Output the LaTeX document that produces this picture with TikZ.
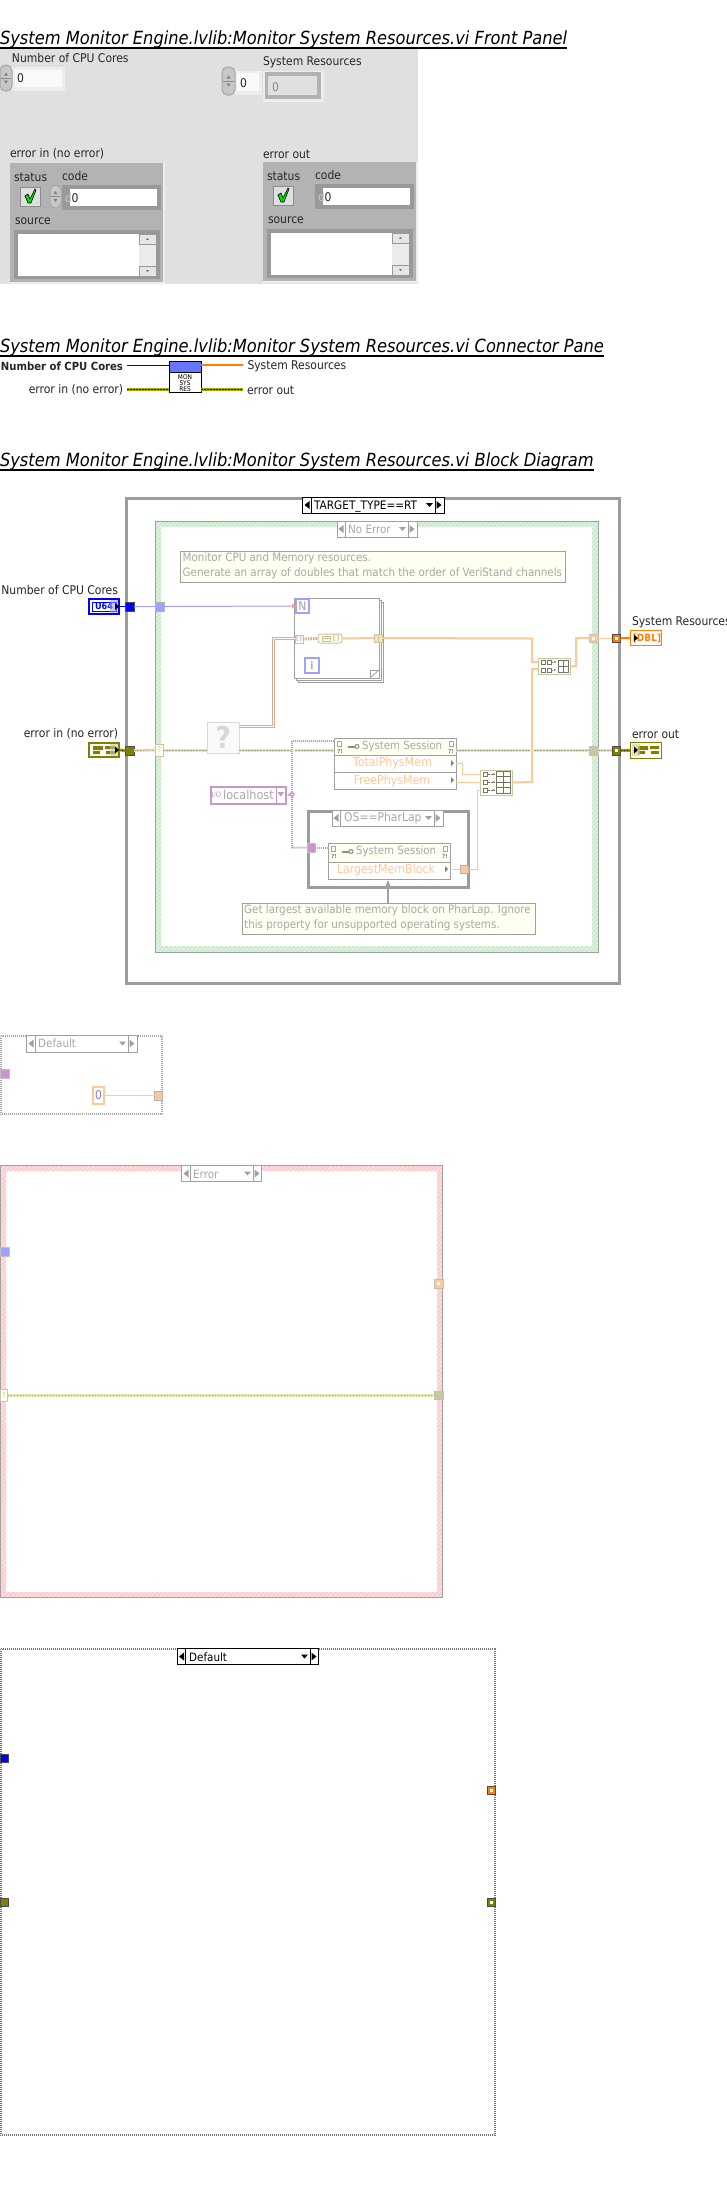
\documentclass[tikz,border=0pt]{standalone}
\usepackage{fontspec}
\setmainfont{DejaVu Sans Condensed}
\usetikzlibrary{patterns.meta,arrows.meta}
\definecolor{panelbg}{HTML}{E0E0E0}
\definecolor{clus}{HTML}{B3B3B3}
\definecolor{ring}{HTML}{9C9C9C}
\definecolor{gb}{HTML}{A0A0A0}
\definecolor{gt}{HTML}{A8A8A8}
\definecolor{note}{HTML}{FFFFF2}
\definecolor{pblue}{HTML}{A0A0FF}
\definecolor{porange}{HTML}{FFC896}
\definecolor{dorange}{HTML}{FF8000}
\definecolor{ppurple}{HTML}{C896C8}
\definecolor{olive2}{HTML}{808000}
\definecolor{polive}{HTML}{C8C8A0}
\definecolor{pyell}{HTML}{E8E8B4}
\definecolor{pdash}{HTML}{A0A080}
\definecolor{pgreen}{HTML}{C8E8C8}
\definecolor{pgreens}{HTML}{E4F4E4}
\definecolor{ppink}{HTML}{FFC8C8}
\definecolor{ppinks}{HTML}{FFE4E4}
\definecolor{brownw}{HTML}{D8A898}
\newcommand\lvfs[1]{\fontsize{#1}{#1}\selectfont}
\tikzset{
  lvbox/.style={rectangle,inner sep=0pt,outer sep=0pt,line width=1pt,draw=gb,font=\lvfs{12}},
  lbl/.style={inner sep=0pt,outer sep=0pt,font=\lvfs{12},text=black!85},
  ptitle/.style={inner sep=0pt,outer sep=0pt,anchor=base west,font=\itshape\lvfs{18.1}},
  seltxt/.style={inner sep=0pt,anchor=west,text=gt,font=\lvfs{11.5}},
  rulel/.style={line width=2pt,draw=black},
  wblue/.style={line width=1pt,draw=blue},
  wpblue/.style={line width=1pt,draw=pblue},
  worange/.style={line width=2pt,draw=dorange},
  wporange/.style={line width=1pt,draw=porange},
  wporangeb/.style={line width=2pt,draw=porange},
  wpurple/.style={line width=2pt,draw=ppurple,dash pattern=on 1pt off 1pt},
  warr/.style={line width=1pt,draw=brownw,double=white,double distance=1pt},
  warrd/.style={line width=3pt,draw=brownw,dash pattern=on 1.5pt off 1pt},
  werr/.style={line width=3pt,draw=olive2!70!yellow,postaction={draw=black!70!olive2,line width=1pt,dash pattern=on 1.5pt off 1.5pt}},
  werrp/.style={line width=3pt,draw=pyell,postaction={draw=pdash,line width=1pt,dash pattern=on 1.5pt off 1.5pt}},
  hatchgreen/.style={pattern={Lines[angle=45,distance=3pt,line width=1.5pt]},pattern color=pgreen,even odd rule},
  hatchpink/.style={pattern={Lines[angle=45,distance=3pt,line width=1.5pt]},pattern color=ppink,even odd rule},
  checka/.style={line width=1pt,dash pattern=on 1pt off 1pt},
  checkb/.style={line width=1pt,dash pattern=on 1pt off 1pt,dash phase=1pt},
  pname/.style={inner sep=0pt,outer sep=0pt,text=porange,font=\lvfs{12.3}},
}
% [options]{name}{x1}{y1}{x2}{y2}{text}
\newcommand\lvbx[7][]{%
  \pgfmathsetmacro\bxw{(#5)-(#3)}\pgfmathsetmacro\bxh{(#6)-(#4)}%
  \node[lvbox,minimum width=\bxw pt,minimum height=\bxh pt,#1] (#2) at ({((#3)+(#5))/2},{((#4)+(#6))/2}) {#7};}
% [colour]{name}{x1}{y1}{x2}{y2}{cellL}{cellR}{text}
\newcommand\lvsel[8][gb]{%
  \begingroup\def\cc{#1}%
  \lvbx[draw=\cc,fill=white]{#2}{#3}{#4}{#5}{#6}{}%
  \draw[draw=\cc,line width=1pt] (#7,#4)--(#7,#6) (#8,#4)--(#8,#6);%
  \fill[\cc] (#7-6.5,{(#4+#6)/2})--(#7-1.5,{(#4+#6)/2-4})--(#7-1.5,{(#4+#6)/2+4})--cycle;%
  \fill[\cc] (#8+6.5,{(#4+#6)/2})--(#8+1.5,{(#4+#6)/2-4})--(#8+1.5,{(#4+#6)/2+4})--cycle;%
  \fill[\cc] (#8-9,{(#4+#6)/2-2})--(#8-2,{(#4+#6)/2-2})--(#8-5.5,{(#4+#6)/2+2})--cycle;%
  \endgroup}
\newcommand\lvspin[5]{%
  \lvbx[fill=black!22,draw=black!35,rounded corners=5.5pt]{#1}{#2}{#3}{#4}{#5}{}%
  \draw[black!45,line width=.6pt] ([xshift=1pt]#1.west)--([xshift=-1pt]#1.east);%
  \fill[black!50] ([yshift=5.5pt]#1.center)--++(-2,3)--++(4,0)--cycle;%
  \fill[black!50] ([yshift=-5.5pt]#1.center)--++(-2,-3)--++(4,0)--cycle;}
\newcommand\lvdot[1]{\fill[white] ([shift={(-1.5pt,-1.5pt)}]#1.center) rectangle ([shift={(1.5pt,1.5pt)}]#1.center);}
% error cluster: prefix; x,y offset is given by the scope
\newcommand\lvcluster[1]{%
  \lvbx[fill=clus,draw=none]{#1box}{10}{163}{165}{284}{}%
  \fill[black!7] (163,163)--(165,163)--(165,284)--(10,284)--(10,282)--(163,282)--cycle;%
  \node[lbl,anchor=west] (#1st) at (14,177) {status};%
  \node[lbl,anchor=west] (#1cd) at (62,176) {code};%
  \node[lbl,anchor=west] (#1sr) at (15,221) {source};%
  \lvbx[fill=black!12,draw=black!45,line width=.6pt]{#1chk}{20}{187}{40}{206}{}%
  \filldraw[fill=green!90!black,draw=black,line width=.6pt] (25,196)--(28,194)--(30,199)--(35,189)--(36,190)--(31,203)--(28,203)--cycle;%
  \lvbx[fill=black!40,draw=black!40]{#1cod}{62}{185}{160}{209}{}%
  \lvbx[fill=white,draw=none,font=\lvfs{12},text=black!85,align=left,anchor=center]{#1val}{70}{189}{157}{206}{}%
  \node[lbl,anchor=west,text=black!20] (#1dd) at (65,198) {d};%
  \node[lbl,anchor=west] (#1zz) at (71.5,198) {0};%
  \lvbx[fill=black!40,draw=none]{#1src}{14}{230}{160}{279}{}%
  \lvbx[fill=white,draw=none]{#1txt}{18}{234}{139}{276}{}%
  \lvbx[fill=black!8,draw=none]{#1sb}{139}{234}{156}{276}{}%
  \lvbx[fill=black!10,draw=black!40,line width=.6pt]{#1up}{139}{234}{156}{244}{}%
  \lvbx[fill=black!10,draw=black!40,line width=.6pt]{#1dn}{139}{266}{156}{276}{}%
  \fill[black!50] ([yshift=1.2pt]#1up.center)--++(-1.5,2)--++(3,0)--cycle;%
  \fill[black!50] ([yshift=-1.2pt]#1dn.center)--++(-1.5,-2)--++(3,0)--cycle;}
\newcommand\lvarrow[2]{\fill[black] (#1,#2-3.5)--(#1+4,#2)--(#1,#2+3.5)--cycle;}
\newcommand\lvhead[5]{%
  \lvbx[fill=note,draw=gb]{#1}{#2}{#3}{#4}{#5}{}%
  \draw[black!35,fill=white,line width=.6pt] (#2+3,#3+3) rectangle (#2+7,#3+8);%
  \draw[black!35,fill=white,line width=.6pt] (#4-7,#3+3) rectangle (#4-3,#3+8);%
  \node[inner sep=0pt,text=black!55,font=\bfseries\lvfs{5.5}] at (#2+6,#3+13) {?!};%
  \node[inner sep=0pt,text=black!55,font=\bfseries\lvfs{5.5}] at (#4-5,#3+13) {?!};%
  \draw[black!45,line width=2pt] (#2+14,#3+8.5)--(#2+21,#3+8.5);%
  \draw[black!45,fill=white,line width=1pt] (#2+23,#3+8.5) circle (2pt);%
  \node[inner sep=0pt,anchor=west,text=gt,font=\lvfs{11.3}] at (#2+28,#3+8.5) {System Session};}
\newcommand\lvbuild[5]{\lvbx[fill=note,draw=polive]{#1}{#2}{#3}{#4}{#5}{}}
\begin{document}
\begin{tikzpicture}[x=1pt,y=-1pt]
\useasboundingbox (0,0) rectangle (727,2187);
\fill[white] (0,0) rectangle (727,2187);

%%%% FRONT PANEL
\node[ptitle] (t1) at (0,44) {System Monitor Engine.lvlib:Monitor System Resources.vi Front Panel};
\coordinate (t1a) at (0,47.5); \draw[rulel] (t1a) -- (t1a -| t1.east);
\lvbx[fill=panelbg,draw=none]{panel}{0}{49}{418}{284}{}
\node[lbl,anchor=west] (fpnum) at (12,58.5) {Number of CPU Cores};
\lvbx[fill=black!7,draw=none]{numbox}{12}{67}{65}{91}{}
\lvbx[fill=black!2,draw=none]{numin}{15}{70}{62}{87}{}
\node[lbl,anchor=west] (numz) at (17,78.5) {0};
\lvspin{numsp}{0}{65}{12}{91}
\node[lbl,anchor=west] (fpres) at (263,62) {System Resources};
\lvbx[fill=black!7,draw=none]{idxbox}{235}{71}{262}{95}{}
\lvbx[fill=black!2,draw=none]{idxin}{237}{73}{259}{91}{}
\node[lbl,anchor=west] (idxz) at (240,83) {0};
\lvspin{idxsp}{222}{67}{235}{95}
\lvbx[fill=black!7,draw=none]{elbox}{263}{71}{324}{102}{}
\lvbx[fill=black!30,draw=none]{elring}{265}{72}{321}{99}{}
\lvbx[fill=panelbg,draw=none]{elin}{268}{76}{317}{95}{}
\node[lbl,anchor=west,text=black!45] (elz) at (272,87) {0};
\node[lbl,anchor=west] (fpei) at (10,154) {error in (no error)};
\node[lbl,anchor=west] (fpeo) at (263,154) {error out};
\begin{scope}
\lvcluster{ei}
\end{scope}
\lvspin{eisp}{50}{185}{61}{208}
\begin{scope}[shift={(253,-1)}]
\lvcluster{eo}
\end{scope}

%%%% CONNECTOR PANE
\node[ptitle] (t2) at (0,352) {System Monitor Engine.lvlib:Monitor System Resources.vi Connector Pane};
\coordinate (t2a) at (0,356); \draw[rulel] (t2a) -- (t2a -| t2.east);
\lvbx[fill=white,draw=black]{icon}{169}{361}{201}{392}{}
\lvbx[fill=blue!30!cyan!15!blue!60!white,draw=black]{icontop}{169}{361}{201}{372}{}
\node[inner sep=0pt,align=center,font=\lvfs{6.5},text=black] (icontxt) at (185,383) {MON\\[-.5pt]SYS\\[-.5pt]RES};
\node[lbl,anchor=east,font=\bfseries\lvfs{11.2}] (cpnum) at (123,366) {Number of CPU Cores};
\node[lbl,anchor=east] (cpei) at (123,390) {error in (no error)};
\node[lbl,anchor=west] (cpres) at (247.5,366) {System Resources};
\node[lbl,anchor=west] (cpeo) at (247,390) {error out};
\coordinate (cpa) at (127,365); \coordinate (cpb) at (243,365);
\coordinate (cpc) at (127,389); \coordinate (cpd) at (243,389);
\draw[wblue] (cpa) -- (cpa -| icon.west);
\draw[worange] (cpb -| icon.east) -- (cpb);
\draw[werr] (cpc) -- (cpc -| icon.west);
\draw[werr] (cpd -| icon.east) -- (cpd);

%%%% BLOCK DIAGRAM
\node[ptitle] (t3) at (0,466) {System Monitor Engine.lvlib:Monitor System Resources.vi Block Diagram};
\coordinate (t3a) at (0,470); \draw[rulel] (t3a) -- (t3a -| t3.east);

% outer case
\lvbx[draw=ring,line width=3pt]{outer}{126.5}{498}{619}{983}{}
\lvsel[black]{outersel}{302}{497}{444}{513}{311}{435}{}
\node[seltxt,anchor=base west,text=black,font=\lvfs{11.7}] (outertxt) at (314,509.5) {TARGET\_TYPE==RT};
% inner case
\fill[pgreens,even odd rule] (155,521) rectangle (598,952) (161,527) rectangle (592,946);
\fill[hatchgreen] (155,521) rectangle (598,952) (161,527) rectangle (592,946);
\draw[gb,line width=1pt] (155,521) rectangle (598,952);
\lvbx[draw=none]{innerframe}{155}{521}{598}{952}{}
\lvsel{innersel}{337}{521}{417}{537}{345}{408}{}
\node[seltxt] (innertxt) at (348,529) {No Error};
% first comment
\lvbx[fill=note,draw=gb]{note1}{180}{551}{565}{582}{}
\node[inner sep=0pt,anchor=north west,align=left,text=gt,font=\lvfs{11.5},execute at begin node={\baselineskip=15pt}] (note1t) at (182.5,552.5) {Monitor CPU and Memory resources.\\Generate an array of doubles that match the order of VeriStand channels};

% terminals
\node[lbl,anchor=east] (lnum) at (118,590) {Number of CPU Cores};
\lvbx[draw=blue,line width=2pt,fill=white]{tnum}{89}{599}{119}{614}{}
\lvbx[draw=blue,line width=1pt,fill=white,text=blue,font=\bfseries\lvfs{9}]{tnumi}{92}{602}{116}{611}{U64}
\fill[pblue,opacity=.55] (110,600) rectangle (118,613);
\lvarrow{115}{606.5}
\lvbx[fill=blue,draw=black!70]{tunb}{125.5}{602}{134}{611}{}
\lvbx[fill=pblue,draw=black!30]{tunc}{155.5}{602}{164}{611}{}
\draw[wblue] (tnum.east) -- (tunb.west);
\draw[wpblue] (tunb.east) -- (tunc.west);

\node[lbl,anchor=east] (lei) at (118,734) {error in (no error)};
\lvbx[draw=olive2,line width=2pt,fill=white]{tei}{89}{743}{119}{757}{}
\fill[olive2] (93,746) rectangle (103,750) (105,746) rectangle (115,749) (93,751) rectangle (100,754) (106,751) rectangle (115,754);
\fill[polive,opacity=.6] (110,744) rectangle (118,756);
\lvarrow{115}{750}
\lvbx[fill=olive2,draw=black!70]{tund}{125.5}{746}{134}{755}{}
\lvbx[fill=note,draw=polive,text=polive,font=\lvfs{8}]{tune}{155.5}{744}{163}{756}{?}
\draw[werr] (tei.east) -- (tund.west);
\draw[werrp] (tund.east) -- (tune.west);

\node[lbl,anchor=west] (lres) at (632,622) {System Resources};
\lvbx[draw=dorange,line width=1pt,fill=white,text=dorange,font=\bfseries\lvfs{10}]{tres}{630.5}{630.5}{661.5}{645.5}{\hspace*{2pt}[DBL]}
\lvarrow{634}{638}
\lvbx[fill=dorange,draw=black!70]{tunf}{612}{634}{620.5}{642.5}{}
\lvdot{tunf}
\lvbx[fill=porange,draw=black!25]{tung}{589.5}{634}{598}{642.5}{}
\lvdot{tung}
\draw[worange] (tunf.east) -- (tres.west);
\draw[wporange] (tung.east) -- (tunf.west);

\node[lbl,anchor=west] (leo) at (632,734) {error out};
\lvbx[draw=olive2,line width=1pt,fill=white]{teo}{630.5}{742.5}{661.5}{758}{}
\fill[olive2] (638,746) rectangle (648,750) (650,746) rectangle (659,749) (638,751) rectangle (645,754) (651,751) rectangle (659,754);
\fill[polive,opacity=.6] (632,744) rectangle (640,756);
\lvarrow{634}{750}
\lvbx[fill=olive2,draw=black!70]{tunh}{612}{746}{620.5}{755}{}
\lvdot{tunh}
\lvbx[fill=polive,draw=black!25]{tuni}{589.5}{746}{598}{755}{}
\draw[werr] (tunh.east) -- (teo.west);
\draw[werrp] (tuni.east) -- (tunh.west);

% for loop
\draw[gb,line width=1pt,fill=white] (298,602) rectangle (383,682);
\draw[gb,line width=1pt,fill=white] (296,600) rectangle (381,680);
\lvbx[fill=white,draw=gb]{loop}{294}{598}{379}{678}{}
\lvbx[draw=pblue,line width=2pt,fill=white,text=gb,font=\lvfs{12}]{loopn}{296}{599}{309}{613}{N}
\lvbx[draw=pblue,line width=2pt,fill=note,text=pblue,font=\bfseries\lvfs{10}]{loopi}{305}{658}{319}{673}{i}
\draw[gb,line width=.8pt,fill=white] (370,678)--(370,670)--(379,670);
\draw[gb,line width=.8pt] (370,678)--(379,670);
\draw[wpblue] (tunc.east) -- (loopn.west);
\fill[red!40] (296,606)--(292,603.5)--(292,608.5)--cycle;
\lvbx[fill=white,draw=polive]{tunj}{295}{635}{303}{643}{}
\node[inner sep=0pt,text=brownw,font=\bfseries\lvfs{6}] (tunjt) at (299,639) {[\,]};
\lvbx[fill=note,draw=polive,rounded corners=2.5pt]{asz}{318}{634}{342}{643}{}
\draw[polive,fill=note,line width=.8pt] (322,636) rectangle (330,641) (322,638.5)--(330,638.5);
\node[inner sep=0pt,text=polive,font=\bfseries\lvfs{7}] (aszt) at (336,638.5) {[\,]};
\draw[warrd] (tunj.east) -- (asz.west);
\lvbx[fill=porange!60,draw=polive]{tunk}{374}{634}{382.5}{642}{}
\draw[polive,line width=.8pt] (tunk.north) -- (tunk.south);
\draw[wporangeb] (asz.east) -- (tunk.west);

% question-mark VI
\lvbx[fill=black!2,draw=black!15,text=black!15,font=\bfseries\lvfs{30}]{qm}{207.5}{722.5}{239}{753}{?}
\coordinate (qa) at (239,726); \coordinate (qb) at (273,638.5);
\draw[warr] (qa) -| (qb) -- (qb -| tunj.west);
\coordinate (gpa) at (291,750); \coordinate (gpb) at (295,750);
\coordinate (gqa) at (530,750); \coordinate (gqb) at (534,750);
\draw[werrp] (tune.east) -- (tune.east -| qm.west);

% property node 1
\lvhead{pna}{334}{738}{456}{755}
\lvbx[fill=white,draw=gb]{pnb}{334}{755}{456}{772}{}
\lvbx[fill=white,draw=gb]{pnc}{334}{772}{456}{789}{}
\node[pname] (pnbt) at (392.5,763.5) {TotalPhysMem};
\node[pname] (pnct) at (392,781) {FreePhysMem};
\fill[gray] (451,760)--(454,763)--(451,766)--cycle (451,777)--(454,780)--(451,783)--cycle;
\draw[werrp] (gpa -| qm.east) -- (gpa);
\draw[werrp] (gpb) -- (pna.west |- gpb);
\draw[werrp] (pna.east |- gqa) -- (gqa);
\draw[werrp] (gqb) -- (gqb -| tuni.west);

% localhost control
\lvbx[draw=ppurple,line width=2pt,fill=white]{host}{211}{787}{286}{804}{}
\draw[ppurple,line width=1pt] (276,787)--(276,804);
\node[inner sep=0pt,text=ppurple,font=\lvfs{7.5}] (hostio) at (216.5,795.5) {I/O};
\node[inner sep=0pt,anchor=west,text=gt,font=\lvfs{12.5}] (hostt) at (223,795) {localhost};
\fill[ppurple] (277.5,792)--(284,792)--(280.7,796.5)--cycle;
% OS==PharLap case
\lvbx[draw=ring,line width=3pt]{oscase}{308}{811}{468}{887}{}
\lvsel{ossel}{332}{810}{443}{826}{340}{434}{}
\node[seltxt,font=\lvfs{12}] (ostxt) at (344,818) {OS==PharLap};
\lvhead{pnd}{328}{843}{450}{862}
\lvbx[fill=white,draw=gb]{pne}{328}{862}{450}{879}{}
\node[pname] (pnet) at (386,870) {LargestMemBlock};
\fill[gray] (445,866)--(448,869)--(445,872)--cycle;
\lvbx[fill=ppurple,draw=black!25]{tunl}{307}{843.5}{315}{852}{}
\lvbx[fill=porange,draw=black!30]{tunm}{460}{865}{468.5}{873.5}{}
% purple wires
\coordinate (pa) at (292,794.5); \coordinate (pb) at (292,741); \coordinate (pc) at (292,847.5);
\draw[wpurple] (host.east) -- (pa);
\draw[wpurple] (pb -| pna.west) -- (pb) -- (pc) -- (tunl.west);
\draw[wpurple] (tunl.east) -- (tunl.east -| pnd.west);
\draw[ppurple,line width=.8pt] (pa) ++(-2.5,0)--++(2.5,-2.5)--++(2.5,2.5)--++(-2.5,2.5)--cycle;
% lower build array
\lvbuild{bab}{480}{770}{512}{795}
\foreach \yy in {774,782,790}{\draw[black!55,line width=.7pt] (483,\yy-2) rectangle (487,\yy+2);\draw[black!55,densely dotted,-{Stealth[length=2pt,width=2pt]}] (488,\yy)--(495,\yy);}
\draw[black!55,line width=.7pt] (496,771.5) rectangle (510,793);
\draw[black!55,line width=.6pt] (503,771.5)--(503,793) (496,776.5)--(510,776.5) (496,782)--(510,782) (496,787.5)--(510,787.5);
% upper build array
\lvbuild{bat}{538}{658}{570}{674}
\foreach \yy in {662,670}{\draw[black!55,line width=.7pt] (541,\yy-2) rectangle (545,\yy+2);\draw[black!55,line width=.7pt] (547,\yy-2) rectangle (551,\yy+2);\draw[black!55,densely dotted,-{Stealth[length=2pt,width=2pt]}] (551,\yy)--(556,\yy);}
\draw[black!55,line width=.7pt] (558,660) rectangle (568,672) (563,660)--(563,672) (558,666)--(568,666);
% orange wires
\coordinate (oa) at (456,763); \coordinate (ob) at (462,774); \coordinate (oc) at (456,782);
\coordinate (od) at (480,782); \coordinate (oe) at (477,790);
\draw[wporange] (oa) -| (ob) -- (ob -| bab.west);
\draw[wporange] (oc) -- (od);
\draw[wporange] (tunm.east) -| (oe) -- (oe -| bab.west);
\draw[wporange] (tunm.west -| pne.east) -- (tunm.west);
\coordinate (of) at (532,782); \coordinate (og) at (532,669);
\draw[wporangeb] (bab.east) -- (of) -- (og) -- (og -| bat.west);
\coordinate (oh) at (532,638.5); \coordinate (oi) at (532,662);
\draw[wporangeb] (tunk.east) -- (oh) -- (oi) -- (oi -| bat.west);
\coordinate (oj) at (576,666); \coordinate (ok) at (576,638);
\draw[wporangeb] (bat.east |- oj) -- (oj) -- (ok) -- (tung.west);

% lower comment
\lvbx[fill=note,draw=gb]{note2}{242}{903}{535}{934}{}
\node[inner sep=0pt,anchor=north west,align=left,text=gt,font=\lvfs{11.5},execute at begin node={\baselineskip=15pt}] (note2t) at (244,904.5) {Get largest available memory block on PharLap. Ignore\\this property for unsupported operating systems.};
\coordinate (na) at (388,880);
\draw[gb,line width=1.5pt,-{Stealth[length=9pt,width=7pt]}] (na |- note2.north) -- (na);

%%%% SMALL DEFAULT FRAME
\draw[checka,draw=black!35] (0.5,1035.5) rectangle (162.5,1114.5);
\draw[checkb,draw=black!35] (1.5,1036.5) rectangle (161.5,1113.5);
\lvsel{s1}{26}{1035}{137}{1052}{35}{128}{}
\node[seltxt] (s1t) at (38,1043.5) {Default};
\lvbx[fill=ppurple,draw=black!25]{s1a}{0.5}{1069.5}{9}{1078}{}
\lvbx[draw=porange,line width=2pt,fill=white,text=pblue!80!black,font=\lvfs{12}]{s1z}{93}{1087}{104}{1104}{0}
\lvbx[fill=porange,draw=black!30]{s1b}{154.5}{1091}{162.5}{1100}{}
\draw[wporange] (s1z.east) -- (s1b.west);
\fill[black!12] (79,1115) -- (79,1112) arc (180:0:3) -- (85,1115) -- cycle;

%%%% ERROR FRAME
\fill[ppinks,even odd rule] (0.5,1165.5) rectangle (442.5,1597.5) (6,1171) rectangle (437,1592);
\fill[hatchpink] (0.5,1165.5) rectangle (442.5,1597.5) (6,1171) rectangle (437,1592);
\draw[gb,line width=1pt] (0.5,1165.5) rectangle (442.5,1597.5);
\lvbx[draw=none]{errframe}{0}{1165}{443}{1598}{}
\lvsel{s2}{181.5}{1165.5}{261.5}{1181.5}{190}{253}{}
\node[seltxt] (s2t) at (193,1174) {Error};
\lvbx[fill=pblue,draw=black!25]{s2a}{0.5}{1247.5}{9}{1256}{}
\lvbx[fill=porange,draw=black!25]{s2b}{434.5}{1279.5}{443}{1288}{}
\lvdot{s2b}
\lvbx[fill=note,draw=polive,text=polive,font=\lvfs{8}]{s2c}{0.5}{1389.5}{7.5}{1401}{?}
\lvbx[fill=polive,draw=black!25]{s2d}{434.5}{1391}{443}{1399.5}{}
\draw[werrp] (s2c.east) -- (s2d.west);

%%%% LARGE DEFAULT FRAME
\draw[checka,draw=black!55] (0.5,1648.5) rectangle (495.5,2135.5);
\draw[checkb,draw=black!55] (1.5,1649.5) rectangle (494.5,2134.5);
\lvsel[black]{s3}{177.5}{1648.5}{318.5}{1664.5}{185.5}{310}{}
\node[seltxt,text=black] (s3t) at (189,1657) {Default};
\lvbx[fill=blue,draw=black!70]{s3a}{0.5}{1754.5}{8.5}{1762.5}{}
\lvbx[fill=dorange,draw=black!70]{s3b}{487.5}{1786.5}{495.5}{1794.5}{}
\lvdot{s3b}
\lvbx[fill=olive2,draw=black!70]{s3c}{0.5}{1898.5}{8.5}{1906.5}{}
\lvbx[fill=olive2,draw=black!70]{s3d}{487.5}{1898.5}{495.5}{1906.5}{}
\lvdot{s3d}
\end{tikzpicture}
\end{document}
